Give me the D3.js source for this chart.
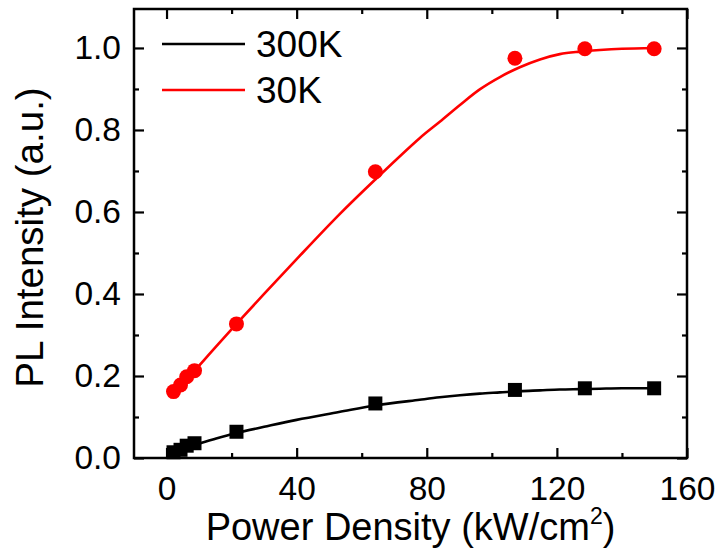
<!DOCTYPE html>
<html>
<head>
<meta charset="utf-8">
<script src="https://cdn.jsdelivr.net/npm/d3@7"></script>
<style>
  html, body { margin: 0; padding: 0; background: #fff; }
  svg { display: block; font-family: "Liberation Sans", Arial, sans-serif; }
</style>
</head>
<body>
<svg id="chart" width="719" height="551"></svg>
<script>
// ---- data ----
const powerX = [2.15, 4.3, 6.2, 8.6, 21.5, 64.2, 107.1, 128.6, 149.9];
const pl300K = [0.014, 0.020, 0.030, 0.036, 0.064, 0.133, 0.166, 0.170, 0.170];
const pl30K  = [0.162, 0.178, 0.198, 0.213, 0.327, 0.698, 0.975, 0.998, 0.998];

const fitX    = [2, 5, 10, 15, 21.5, 30, 40, 53, 64, 77.8, 84, 90.2, 96.3, 102.5, 108.6, 114.8, 120.9, 127.1, 133.2, 140, 150];
const fit300K = [0.012, 0.020, 0.035, 0.047, 0.061, 0.076, 0.093, 0.112, 0.128, 0.142, 0.148, 0.153, 0.157, 0.160, 0.163, 0.165, 0.167, 0.168, 0.169, 0.170, 0.170];
const fit30K  = [0.160, 0.185, 0.225, 0.270, 0.327, 0.400, 0.485, 0.593, 0.678, 0.780, 0.820, 0.861, 0.899, 0.929, 0.953, 0.972, 0.985, 0.991, 0.995, 0.998, 1.000];

const xMajorTicks = [0, 40, 80, 120, 160];
const xMinorTicks = [20, 60, 100, 140];
const yMajorTicks = [0.0, 0.2, 0.4, 0.6, 0.8, 1.0];
const yMinorTicks = [0.1, 0.3, 0.5, 0.7, 0.9];
const seriesNames = ["300K", "30K"];
const seriesColors = ["#000000", "#ff0000"];

// ---- layout ----
const pL = 134, pR = 687, pT = 9, pB = 458;
const x = d3.scaleLinear().domain([-10, 160]).range([pL, pR]);
const y = d3.scaleLinear().domain([0, 1.095]).range([pB, pT]);

const svg = d3.select("#chart");
const majorLen = 10, minorLen = 5;
const FONT = "Liberation Sans, Arial, sans-serif";

function styleAxis(g) {
  g.selectAll("path.domain").remove();
  g.selectAll(".tick line").attr("stroke", "#000").attr("stroke-width", 2.2);
}
const fmtY = d3.format(".1f");

// bottom
svg.append("g").attr("transform", `translate(0,${pB})`)
  .call(d3.axisBottom(x).tickValues(xMajorTicks).tickSizeInner(-majorLen).tickSizeOuter(0).tickPadding(majorLen + 8).tickFormat(d3.format("d")))
  .call(styleAxis)
  .call(g => g.selectAll("text").attr("font-size", 33.5).attr("fill", "#000").attr("font-family", FONT));
svg.append("g").attr("transform", `translate(0,${pB})`)
  .call(d3.axisBottom(x).tickValues(xMinorTicks).tickSizeInner(-minorLen).tickSizeOuter(0).tickFormat(""))
  .call(styleAxis);
// top
svg.append("g").attr("transform", `translate(0,${pT})`)
  .call(d3.axisTop(x).tickValues(xMajorTicks).tickSizeInner(-majorLen).tickSizeOuter(0).tickFormat(""))
  .call(styleAxis);
svg.append("g").attr("transform", `translate(0,${pT})`)
  .call(d3.axisTop(x).tickValues(xMinorTicks).tickSizeInner(-minorLen).tickSizeOuter(0).tickFormat(""))
  .call(styleAxis);
// left
svg.append("g").attr("transform", `translate(${pL},0)`)
  .call(d3.axisLeft(y).tickValues(yMajorTicks).tickSizeInner(-majorLen).tickSizeOuter(0).tickPadding(majorLen + 3).tickFormat(fmtY))
  .call(styleAxis)
  .call(g => g.selectAll("text").attr("font-size", 33.5).attr("fill", "#000").attr("font-family", FONT));
svg.append("g").attr("transform", `translate(${pL},0)`)
  .call(d3.axisLeft(y).tickValues(yMinorTicks).tickSizeInner(-minorLen).tickSizeOuter(0).tickFormat(""))
  .call(styleAxis);
// right
svg.append("g").attr("transform", `translate(${pR},0)`)
  .call(d3.axisRight(y).tickValues(yMajorTicks).tickSizeInner(-majorLen).tickSizeOuter(0).tickFormat(""))
  .call(styleAxis);
svg.append("g").attr("transform", `translate(${pR},0)`)
  .call(d3.axisRight(y).tickValues(yMinorTicks).tickSizeInner(-minorLen).tickSizeOuter(0).tickFormat(""))
  .call(styleAxis);

// frame
svg.append("rect")
  .attr("x", pL).attr("y", pT)
  .attr("width", pR - pL).attr("height", pB - pT)
  .attr("fill", "none").attr("stroke", "#000").attr("stroke-width", 2.5);

// fitted curves
const line = d3.line().x(d => x(d[0])).y(d => y(d[1])).curve(d3.curveCatmullRom.alpha(0.5));
const fits = [fit300K, fit30K];
fits.forEach((f, i) => {
  svg.append("path")
    .datum(fitX.map((v, j) => [v, f[j]]))
    .attr("d", line)
    .attr("fill", "none")
    .attr("stroke", seriesColors[i])
    .attr("stroke-width", 2.6);
});

// markers
const sq = d3.symbol().type(d3.symbolSquare).size(14 * 14);
svg.append("g").selectAll("path")
  .data(powerX.map((v, j) => [v, pl300K[j]]))
  .join("path")
  .attr("d", sq)
  .attr("transform", d => `translate(${x(d[0])},${y(d[1])})`)
  .attr("fill", seriesColors[0]);
svg.append("g").selectAll("circle")
  .data(powerX.map((v, j) => [v, pl30K[j]]))
  .join("circle")
  .attr("cx", d => x(d[0])).attr("cy", d => y(d[1]))
  .attr("r", 7.5)
  .attr("fill", seriesColors[1]);

// legend
const legY = [44, 90];
seriesNames.forEach((n, i) => {
  svg.append("line")
    .attr("x1", 162).attr("x2", 245)
    .attr("y1", legY[i]).attr("y2", legY[i])
    .attr("stroke", seriesColors[i]).attr("stroke-width", 2.6);
  svg.append("text")
    .attr("x", 256).attr("y", legY[i])
    .attr("dy", "0.36em")
    .attr("font-size", 37)
    .attr("fill", "#000")
    .text(n);
});

// axis titles
const xt = svg.append("text")
  .attr("x", (pL + pR) / 2).attr("y", 540)
  .attr("text-anchor", "middle")
  .attr("font-size", 38)
  .attr("fill", "#000");
xt.append("tspan").text("Power Density (kW/cm");
xt.append("tspan").attr("dy", -16).attr("font-size", 23).text("2");
xt.append("tspan").attr("dy", 16).text(")");

svg.append("text")
  .attr("transform", `translate(43,${(pT + pB) / 2 + 4}) rotate(-90)`)
  .attr("text-anchor", "middle")
  .attr("font-size", 38.5)
  .attr("fill", "#000")
  .text("PL Intensity (a.u.)");
</script>
</body>
</html>
